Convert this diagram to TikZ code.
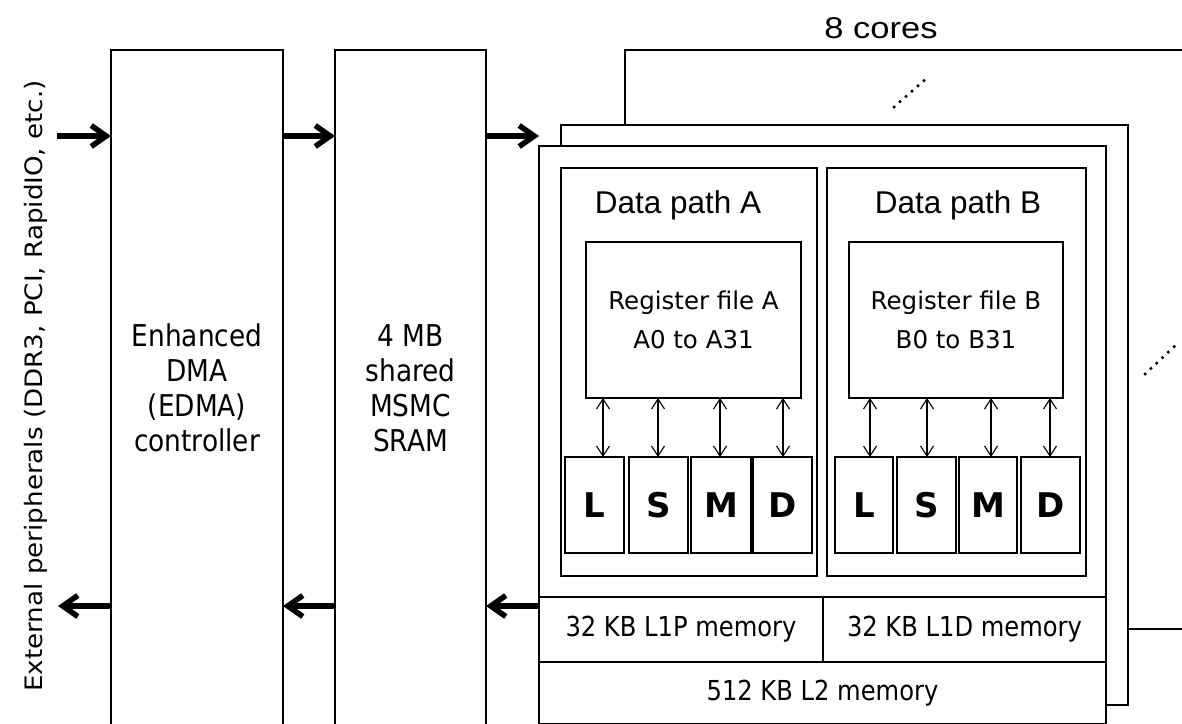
\documentclass[tikz,border=0pt]{standalone}
\usepackage{fontspec}
\setmainfont{DejaVu Sans}
\newfontfamily\arialf{Liberation Sans}
\newfontfamily\narrowf[FakeStretch=0.88]{DejaVu Sans}
\newfontfamily\widef[FakeStretch=1.09]{DejaVu Sans}
\usetikzlibrary{arrows.meta}

\begin{document}
\begin{tikzpicture}[x=1pt,y=-1pt,
  frame/.style={draw, fill=white, anchor=north west, inner sep=0pt, outer sep=0pt},
  outerblk/.style={frame, line width=2.8pt},
  unitbox/.style={frame, line width=2pt, minimum width=#1, minimum height=96pt,
    font=\fontsize{34}{34}\selectfont\bfseries},
  membox/.style={frame, line width=2pt, font=\narrowf\fontsize{27.5}{27.5}\selectfont},
  big/.style={line width=5.5pt, -{Straight Barb[length=15pt,width=21pt]}},
  dbl/.style={line width=1.1pt, {Straight Barb[length=10pt,width=13pt]}-{Straight Barb[length=10pt,width=13pt]}},
  dots/.style={line width=3.5pt, line cap=round, dash pattern=on 0pt off 8pt}
]
\useasboundingbox (0,0) rectangle (1182,723);
\clip (0,0) rectangle (1182,723);

% external interface label
\node[rotate=90, font=\widef\fontsize{24}{24}\selectfont] (ext) at (36,386)
  {External peripherals (DDR3, PCI, RapidIO, etc.)};

% EDMA controller and shared SRAM
\node[outerblk, minimum width=172pt, minimum height=720pt] (edma) at (111,50) {};
\node[outerblk, minimum width=151pt, minimum height=720pt] (msmc) at (335,50) {};
\node[align=center, font=\narrowf\fontsize{30}{35}\selectfont] (edmatxt) at (197,388)
  {Enhanced\\DMA\\(EDMA)\\controller};
\node[align=center, font=\narrowf\fontsize{30}{35}\selectfont] (msmctxt) at (410.5,388)
  {4 MB\\shared\\MSMC\\SRAM};

% stacked cores
\node[font=\arialf\fontsize{30}{30}\selectfont] (ncores) at (881,28) {\scalebox{1.15}[1]{8 cores}};
\node[frame, line width=1.4pt, minimum width=700pt, minimum height=579pt] (core3) at (625,50) {};
\draw[dots] (894,107) -- (928,77);
\draw[dots] (1145,374) -- (1177,344);
\node[frame, line width=2.2pt, minimum width=567pt, minimum height=580pt] (core2) at (561,125) {};
\node[frame, line width=2.5pt, minimum width=567pt, minimum height=640pt] (core1) at (539,146) {};

% data paths
\node[frame, line width=1.2pt, minimum width=256pt, minimum height=408pt] (dpA) at (561,168) {};
\node[frame, line width=1.2pt, minimum width=259pt, minimum height=408pt] (dpB) at (827,168) {};
\node[font=\arialf\fontsize{31.5}{31.5}\selectfont] (dpAtxt) at (678,205) {Data path A};
\node[font=\arialf\fontsize{31.5}{31.5}\selectfont] (dpBtxt) at (958,205) {Data path B};

\node[frame, line width=1.2pt, minimum width=215pt, minimum height=156pt, align=center,
  font=\fontsize{24.5}{39}\selectfont] (regA) at (586,242) {Register file A\\A0 to A31};
\node[frame, line width=1.2pt, minimum width=214pt, minimum height=156pt, align=center,
  font=\fontsize{24.5}{39}\selectfont] (regB) at (849,242) {Register file B\\B0 to B31};

% functional units
\node[unitbox=59pt] (aL) at (565,457) {L};
\node[unitbox=59pt] (aS) at (629,457) {S};
\node[unitbox=60pt] (aM) at (691,457) {M};
\node[unitbox=59pt] (aD) at (753,457) {D};
\node[unitbox=58pt] (bL) at (835,457) {L};
\node[unitbox=59pt] (bS) at (897,457) {S};
\node[unitbox=58pt] (bM) at (959,457) {M};
\node[unitbox=59pt] (bD) at (1021,457) {D};

\draw[dbl] (regA.south -| 603,0) -- (aL.north -| 603,0);
\draw[dbl] (regA.south -| 658,0) -- (aS.north -| 658,0);
\draw[dbl] (regA.south -| 720,0) -- (aM.north -| 720,0);
\draw[dbl] (regA.south -| 783,0) -- (aD.north -| 783,0);
\draw[dbl] (regB.south -| 870,0) -- (bL.north -| 870,0);
\draw[dbl] (regB.south -| 927,0) -- (bS.north -| 927,0);
\draw[dbl] (regB.south -| 991,0) -- (bM.north -| 991,0);
\draw[dbl] (regB.south -| 1050,0) -- (bD.north -| 1050,0);

% memories
\node[membox, minimum width=284pt, minimum height=65pt] (l1p) at (539,597) {32 KB L1P memory};
\node[membox, minimum width=283pt, minimum height=65pt] (l1d) at (823,597) {32 KB L1D memory};
\node[membox, minimum width=567pt, minimum height=62pt] (l2) at (539,662) {512 KB L2 memory};

% data flow
\coordinate (pin) at (57,136);
\coordinate (pout) at (58,606);
\draw[big] (pin) -- (pin -| edma.west);
\draw[big] (edma.east |- pin) -- (msmc.west |- pin);
\draw[big] (msmc.east |- pin) -- (core1.west |- pin);
\draw[big] (edma.west |- pout) -- (pout);
\draw[big] (msmc.west |- pout) -- (edma.east |- pout);
\draw[big] (core1.west |- pout) -- (msmc.east |- pout);
\end{tikzpicture}
\end{document}
